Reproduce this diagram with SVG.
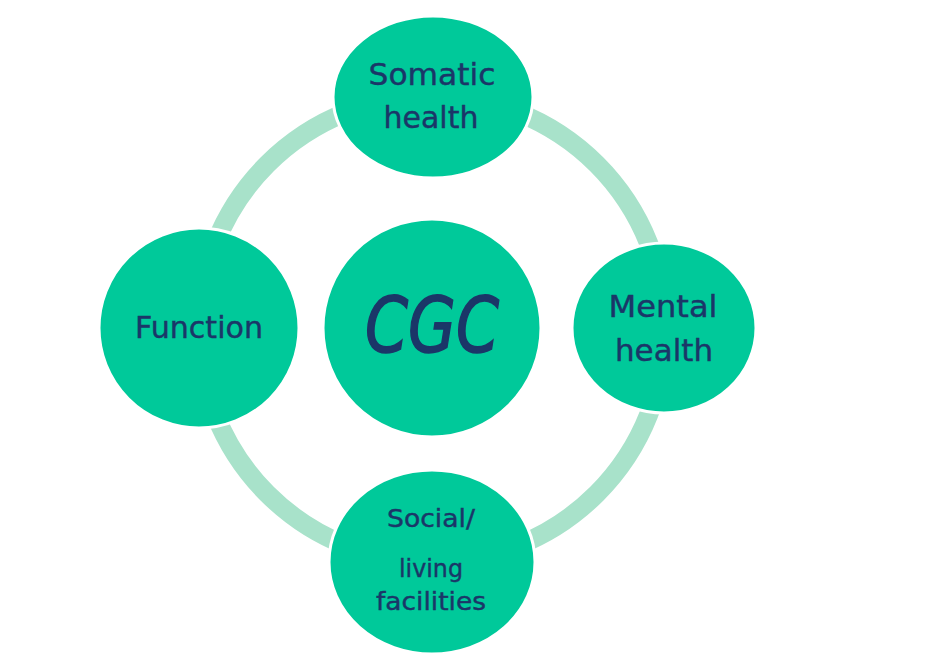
<svg xmlns="http://www.w3.org/2000/svg" width="927" height="661" viewBox="0 0 927 661">
<style>
.node{fill:#00C99A;stroke:#ffffff;stroke-width:3}
.lbl{font-family:"DejaVu Sans","Noto Sans",sans-serif;fill:#1B3668;stroke:#1B3668;stroke-width:0.4;text-anchor:middle}
</style>
<rect width="927" height="661" fill="#ffffff"/>
<g id="connectors">
<circle cx="432" cy="329" r="233" fill="none" stroke="#A8E2CA" stroke-width="19"/>
</g>
<g id="node-somatic">
<ellipse class="node" cx="433" cy="97" rx="100" ry="81"/>
<text class="lbl" x="432" y="85" font-size="30" textLength="127" lengthAdjust="spacingAndGlyphs">Somatic</text>
<text class="lbl" x="431" y="128" font-size="30" textLength="95" lengthAdjust="spacingAndGlyphs">health</text>
</g>
<g id="node-cgc">
<circle class="node" cx="432" cy="328" r="109"/>
<text class="lbl" x="432" y="352" font-size="76" textLength="134" lengthAdjust="spacingAndGlyphs" font-style="italic" style="stroke-width:1.6">CGC</text>
</g>
<g id="node-mental">
<ellipse class="node" cx="664" cy="328" rx="92" ry="85"/>
<text class="lbl" x="663" y="317" font-size="30" textLength="109" lengthAdjust="spacingAndGlyphs">Mental</text>
<text class="lbl" x="664" y="361" font-size="30" textLength="98" lengthAdjust="spacingAndGlyphs">health</text>
</g>
<g id="node-function">
<circle class="node" cx="199" cy="328" r="100"/>
<text class="lbl" x="199" y="338" font-size="30" textLength="128" lengthAdjust="spacingAndGlyphs">Function</text>
</g>
<g id="node-social">
<ellipse class="node" cx="432" cy="562" rx="103" ry="92"/>
<text class="lbl" x="431" y="527" font-size="24" textLength="88" lengthAdjust="spacingAndGlyphs">Social/</text>
<text class="lbl" x="431" y="577" font-size="24" textLength="64" lengthAdjust="spacingAndGlyphs">living</text>
<text class="lbl" x="431" y="610" font-size="24" textLength="110" lengthAdjust="spacingAndGlyphs">facilities</text>
</g>
</svg>
